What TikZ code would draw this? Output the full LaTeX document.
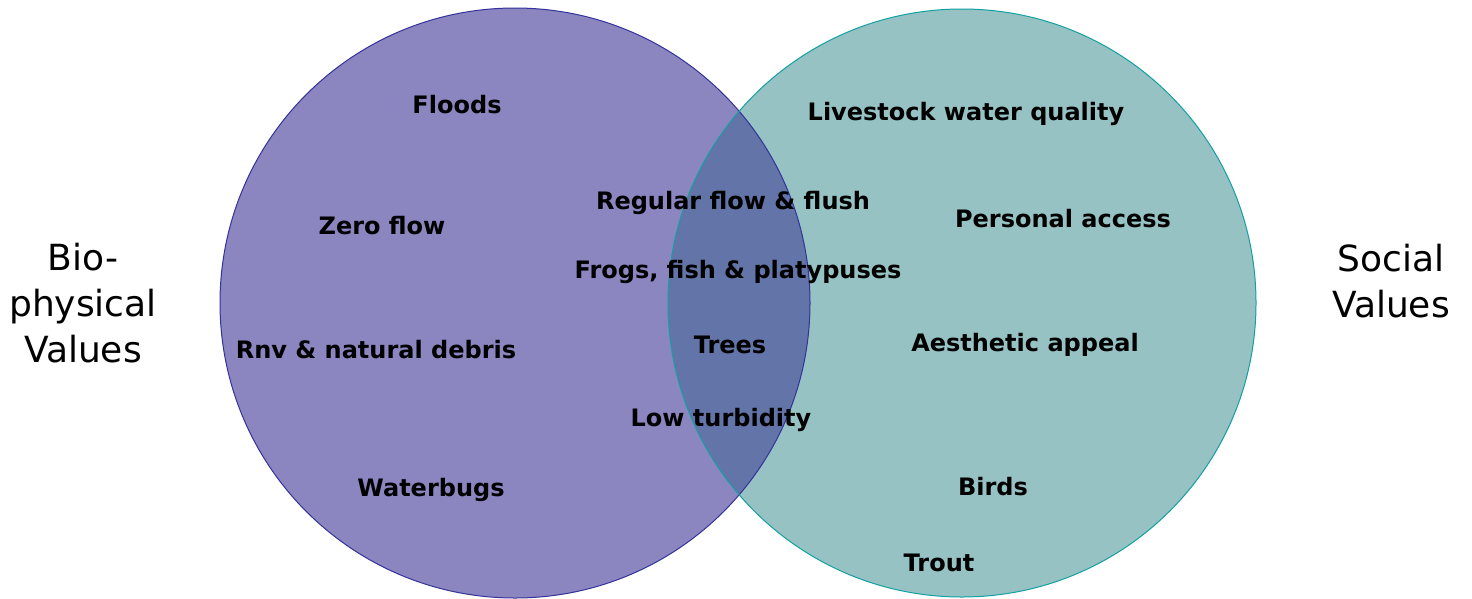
\documentclass[tikz,border=0pt]{standalone}
\usepackage{fontspec}
\setmainfont{DejaVu Sans}
\newfontfamily\sidefam{DejaVu Sans}[Scale=1.5]
\definecolor{leftfill}{HTML}{8B85C0}
\definecolor{rightfill}{HTML}{96C2C4}
\definecolor{overlap}{HTML}{6374A8}
\definecolor{leftline}{HTML}{33339A}
\definecolor{rightline}{HTML}{12A0A0}
\begin{document}
\begin{tikzpicture}[x=1pt,y=-1pt,
  item/.style={font=\fontsize{24}{28}\selectfont\bfseries, anchor=base, inner sep=0pt, text=black},
  side/.style={font=\sidefam\fontsize{24}{28}\selectfont, anchor=base, inner sep=0pt, text=black}]
\useasboundingbox (0,0) rectangle (1472,598);
\begin{scope}
\clip (0,0) rectangle (1472,598);
\fill[leftfill] (515,303) circle[radius=295pt];
\fill[rightfill] (962,303) circle[radius=294pt];
\begin{scope}
\clip (515,303) circle[radius=295pt];
\fill[overlap] (962,303) circle[radius=294pt];
\end{scope}
\draw[leftline, line width=1pt] (515,303) circle[radius=295pt];
\draw[rightline, line width=1pt] (962,303) circle[radius=294pt];
\end{scope}
\node[item] (floods) at (457,113) {Floods};
\node[item] (livestock) at (966,120) {Livestock water quality};
\node[item] (regular) at (733,209) {Regular flow \& flush};
\node[item] (zero) at (382,234) {Zero flow};
\node[item] (personal) at (1063,227) {Personal access};
\node[item] (frogs) at (738,278) {Frogs, fish \& platypuses};
\node[item] (rnv) at (376,358) {Rnv \& natural debris};
\node[item] (trees) at (730,353) {Trees};
\node[item] (aesthetic) at (1025,351) {Aesthetic appeal};
\node[item] (low) at (721,426) {Low turbidity};
\node[item] (waterbugs) at (431,496) {Waterbugs};
\node[item] (birds) at (993,495) {Birds};
\node[item] (trout) at (939,571) {Trout};
\node[side] (bio1) at (83,270) {Bio-};
\node[side] (bio2) at (83,316) {physical};
\node[side] (bio3) at (83,362) {Values};
\node[side] (social1) at (1391,271) {Social};
\node[side] (social2) at (1391,317) {Values};
\end{tikzpicture}
\end{document}
